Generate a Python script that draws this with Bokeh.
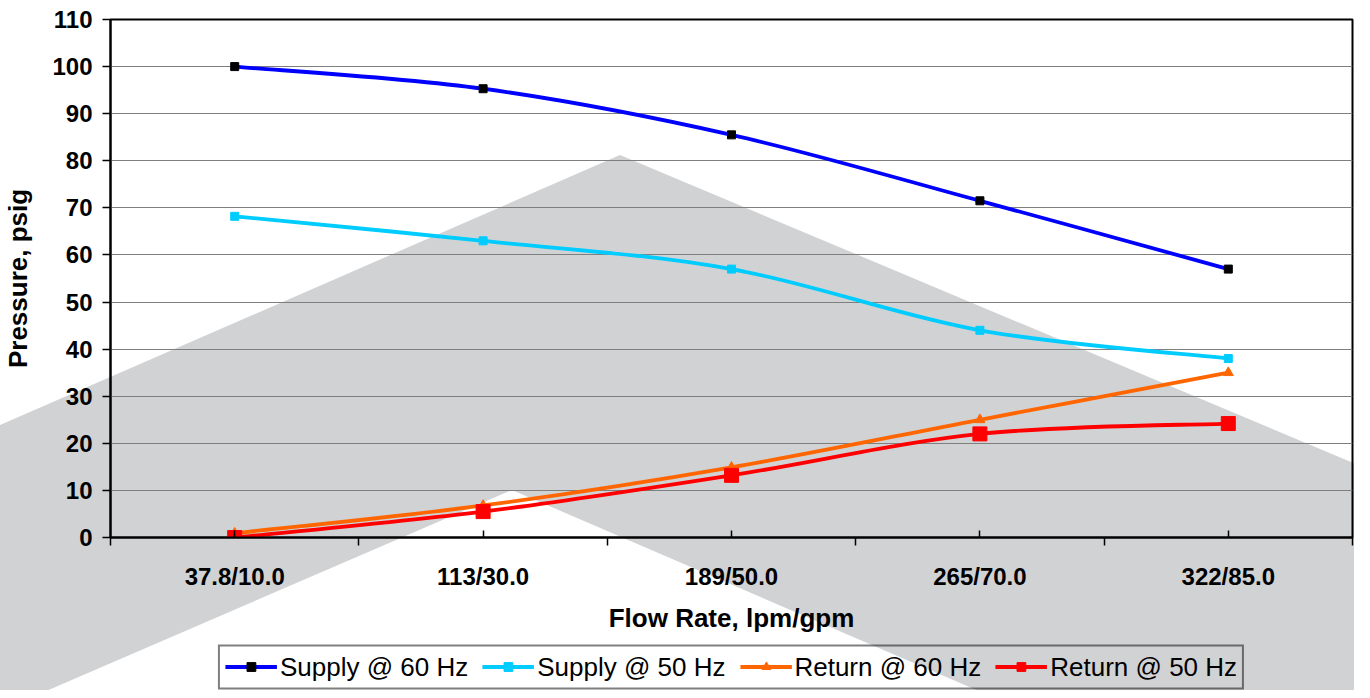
from bokeh.plotting import figure
from bokeh.layouts import column
from bokeh.models import Range1d, FixedTicker, Legend, LegendItem
from bokeh.embed import file_html
from bokeh.resources import INLINE

# ---------------- data ----------------
categories = ["37.8/10.0", "113/30.0", "189/50.0", "265/70.0", "322/85.0"]
supply_60 = [100.0, 95.3, 85.5, 71.5, 57.0]
supply_50 = [68.2, 63.0, 57.0, 44.0, 38.0]
return_60 = [0.9, 6.8, 14.9, 25.0, 35.0]
return_50 = [0.0, 5.5, 13.2, 22.0, 24.2]
y_ticks = [0, 10, 20, 30, 40, 50, 60, 70, 80, 90, 100, 110]
series_names = ["Supply @ 60 Hz", "Supply @ 50 Hz", "Return @ 60 Hz", "Return @ 50 Hz"]

# ---------------- styles ----------------
line_colors = ["#0000FF", "#00CCFF", "#FF6600", "#FF0000"]
marker_colors = ["#000000", "#00CCFF", "#FF6600", "#FF0000"]
marker_types = ["square", "square", "triangle", "square"]
marker_sizes = [8, 8, 10, 14]
# decorative background chevron (pixels of the page element)
watermark_xs = [0, 620, 1370, 1370, 995, 512, 30, 0]
watermark_ys = [425, 155, 470, 698, 698, 490, 698, 698]

FONT = "Liberation Sans"
W = 1354
H_MAIN = 643
H_LEG = 47

pts = " ".join(f"{x},{y}" for x, y in zip(watermark_xs, watermark_ys))
svg_bg = (f"<svg xmlns='http://www.w3.org/2000/svg' width='{W}' height='{H_MAIN + H_LEG}'>"
          f"<polygon points='{pts}' fill='%23D1D2D4'/></svg>")

x_pos = [i + 0.5 for i in range(len(categories))]
bounds = list(range(len(categories) + 1))

p = figure(width=W, height=H_MAIN, output_backend="svg", toolbar_location=None,
           x_range=Range1d(0, len(categories)), y_range=Range1d(0, 110),
           min_border_left=110, min_border_right=2, min_border_top=19,
           min_border_bottom=H_MAIN - 537)
p.background_fill_color = None
p.border_fill_color = None
p.outline_line_color = "black"
p.outline_line_width = 2

p.xgrid.grid_line_color = None
p.ygrid.grid_line_color = "#7F7F7F"
p.ygrid.grid_line_width = 1

# axes
xa = p.xaxis[0]
ya = p.yaxis[0]
xa.ticker = FixedTicker(ticks=x_pos, minor_ticks=bounds)
xa.major_label_overrides = {x: c for x, c in zip(x_pos, categories)}
ya.ticker = FixedTicker(ticks=y_ticks)
for ax in (xa, ya):
    ax.axis_line_color = "black"
    ax.axis_line_width = 2
    ax.major_tick_line_color = "black"
    ax.major_tick_line_width = 1.5
    ax.minor_tick_line_color = "black"
    ax.minor_tick_line_width = 1.5
    ax.major_label_text_font = FONT
    ax.major_label_text_font_style = "bold"
    ax.major_label_text_font_size = "24px"
    ax.major_label_text_color = "black"
    ax.axis_label_text_font = FONT
    ax.axis_label_text_font_style = "bold"
    ax.axis_label_text_font_size = "26px"
    ax.axis_label_text_color = "black"

xa.major_tick_in = 7
xa.major_tick_out = 0
xa.minor_tick_in = 0
xa.minor_tick_out = 8
xa.major_label_standoff = 17
xa.axis_label = "Flow Rate, lpm/gpm"
xa.axis_label_standoff = 10

ya.major_tick_in = 0
ya.major_tick_out = 8
ya.minor_tick_in = 0
ya.minor_tick_out = 0
ya.major_label_standoff = 10
ya.axis_label = "Pressure, psig"
ya.axis_label_standoff = 16


def smooth_segments(xs, ys):
    n = len(xs)
    seg = dict(x0=[], y0=[], x1=[], y1=[], cx0=[], cy0=[], cx1=[], cy1=[])
    for i in range(n - 1):
        a = max(i - 1, 0)
        d = min(i + 2, n - 1)
        seg["x0"].append(xs[i]); seg["y0"].append(ys[i])
        seg["x1"].append(xs[i + 1]); seg["y1"].append(ys[i + 1])
        seg["cx0"].append(xs[i] + (xs[i + 1] - xs[a]) / 6)
        seg["cy0"].append(ys[i] + (ys[i + 1] - ys[a]) / 6)
        seg["cx1"].append(xs[i + 1] - (xs[d] - xs[i]) / 6)
        seg["cy1"].append(ys[i + 1] - (ys[d] - ys[i]) / 6)
    return seg


# legend strip below the chart (its ranges hide the key glyphs' data)
leg = figure(width=W, height=H_LEG, output_backend="svg", toolbar_location=None,
             x_range=Range1d(-3, -2), y_range=Range1d(-3, -2),
             x_axis_location=None, y_axis_location=None,
             min_border_left=110, min_border_right=2, min_border_top=0, min_border_bottom=0)
leg.grid.visible = False
leg.outline_line_color = None
leg.background_fill_color = None
leg.border_fill_color = None

items = []
for name, vals, lc, mc, mt, ms in zip(series_names, [supply_60, supply_50, return_60, return_50],
                                       line_colors, marker_colors, marker_types, marker_sizes):
    s = smooth_segments(x_pos, vals)
    p.bezier(x0=s["x0"], y0=s["y0"], x1=s["x1"], y1=s["y1"],
             cx0=s["cx0"], cy0=s["cy0"], cx1=s["cx1"], cy1=s["cy1"],
             line_color=lc, line_width=3.8)
    p.scatter(x=x_pos, y=vals, marker=mt, size=ms, fill_color=mc, line_color=mc)
    kl = leg.line(x=x_pos, y=vals, line_color=lc, line_width=3.8)
    km = leg.scatter(x=x_pos, y=vals, marker=mt, size=ms, fill_color=mc, line_color=mc)
    items.append(LegendItem(label=name, renderers=[kl, km]))

legend = Legend(items=items, orientation="horizontal", location="center",
                glyph_width=52, glyph_height=22, label_standoff=3, spacing=14,
                padding=5, margin=0, border_line_color="black", border_line_width=2,
                background_fill_alpha=0, label_text_font=FONT, label_text_font_size="26px",
                label_text_color="black")
leg.add_layout(legend)

layout = column(p, leg, spacing=0)
layout.styles = {"background-color": "white",
                 "background-image": f"url(\"data:image/svg+xml;utf8,{svg_bg}\")",
                 "background-repeat": "no-repeat"}

open("out.html", "w").write(file_html(layout, INLINE))
